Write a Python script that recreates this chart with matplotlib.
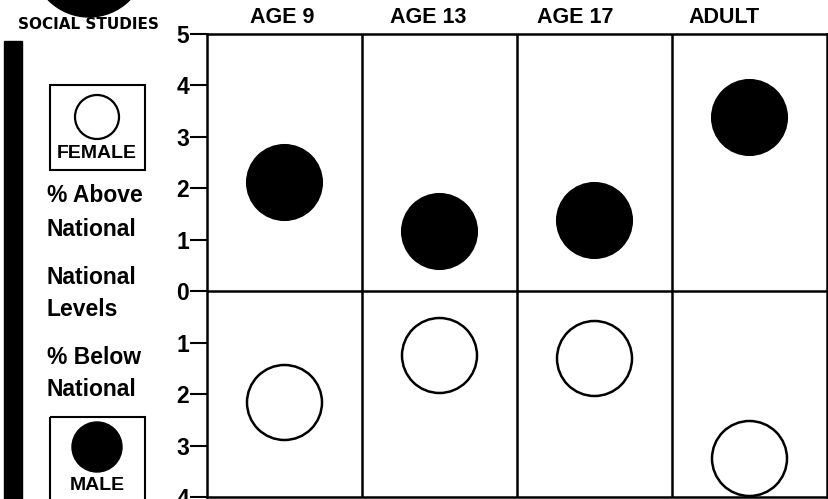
import matplotlib
matplotlib.use("Agg")
import matplotlib.pyplot as plt
from matplotlib.patches import Rectangle, Wedge, Circle

# ---- data ----
groups = ["AGE 9", "AGE 13", "AGE 17", "ADULT"]
above_values = [2.13, 1.18, 1.39, 3.38]   # filled circles, % above national
below_values = [2.16, 1.24, 1.30, 3.25]   # open circles, % below national
ytick_values = [5, 4, 3, 2, 1, 0, -1, -2, -3, -4]
ytick_labels = ["5", "4", "3", "2", "1", "0", "1", "2", "3", "4"]

# layout only: horizontal shift of each column header (pixels)
header_dx = [-2, -11, -19, -25]

FONT = ["Liberation Sans", "DejaVu Sans"]
plt.rcParams["font.family"] = FONT

W, H = 829, 499
fig = plt.figure(figsize=(W / 100, H / 100), dpi=100)

# ---- main chart ----
ax = fig.add_axes([207 / W, 1 - 497 / H, (827 - 207) / W, (497 - 34) / H])
ax.set_xlim(0, len(groups))
ax.set_ylim(-4, 5)
xs = [i + 0.5 for i in range(len(groups))]
ax.scatter(xs, above_values, s=54 ** 2, c="black", edgecolors="black",
           linewidths=1.5, zorder=3)
ax.scatter(xs, [-v for v in below_values], s=54 ** 2, facecolors="white",
           edgecolors="black", linewidths=1.8, zorder=3)
for i in range(1, len(groups)):
    ax.axvline(i, color="black", lw=1.8, zorder=2)
ax.axhline(0, color="black", lw=1.8, zorder=2)
for sp in ax.spines.values():
    sp.set_linewidth(1.8)
ax.set_xticks([])
ax.set_yticks(ytick_values)
ax.set_yticklabels(ytick_labels, fontsize=16.5, fontweight="bold")
ax.tick_params(axis="y", direction="out", length=12, width=1.5, pad=1)

# ---- decorations (pixel coordinate overlay) ----
deco = fig.add_axes([0, 0, 1, 1], zorder=-1)
deco.set_xlim(0, W)
deco.set_ylim(H, 0)
deco.axis("off")
for x, g, dx in zip(xs, groups, header_dx):
    px = 207 + x / len(groups) * (827 - 207) + dx
    deco.text(px, 17, g, ha="center", va="center", fontsize=15.5,
              fontweight="bold")
deco.add_patch(Wedge((89, -40), 57, 0, 180, color="black"))
deco.text(88, 24, "SOCIAL STUDIES", ha="center", va="center", fontsize=11,
          fontweight="bold", family=["DejaVu Sans"])
deco.add_patch(Rectangle((4, 41), 18, H - 41, color="black"))

# female legend box
deco.add_patch(Rectangle((50, 85), 95, 85, fill=False, ec="black", lw=1.5))
deco.add_patch(Circle((97, 117), 22, fill=False, ec="black", lw=1.6))
deco.text(97, 154, "FEMALE", ha="center", va="center", fontsize=14,
          fontweight="bold")

labels = [("% Above", 196), ("National", 229), ("National", 277),
          ("Levels", 310), ("% Below", 358), ("National", 390)]
for t, y in labels:
    deco.text(47, y, t, ha="left", va="center", fontsize=16.5,
              fontweight="bold")

# male legend box
deco.add_patch(Rectangle((50, 417), 95, 90, fill=False, ec="black", lw=1.5))
deco.add_patch(Circle((97, 447), 25, color="black"))
deco.text(97, 485, "MALE", ha="center", va="center", fontsize=14,
          fontweight="bold")

fig.savefig("out.png", dpi=100)
